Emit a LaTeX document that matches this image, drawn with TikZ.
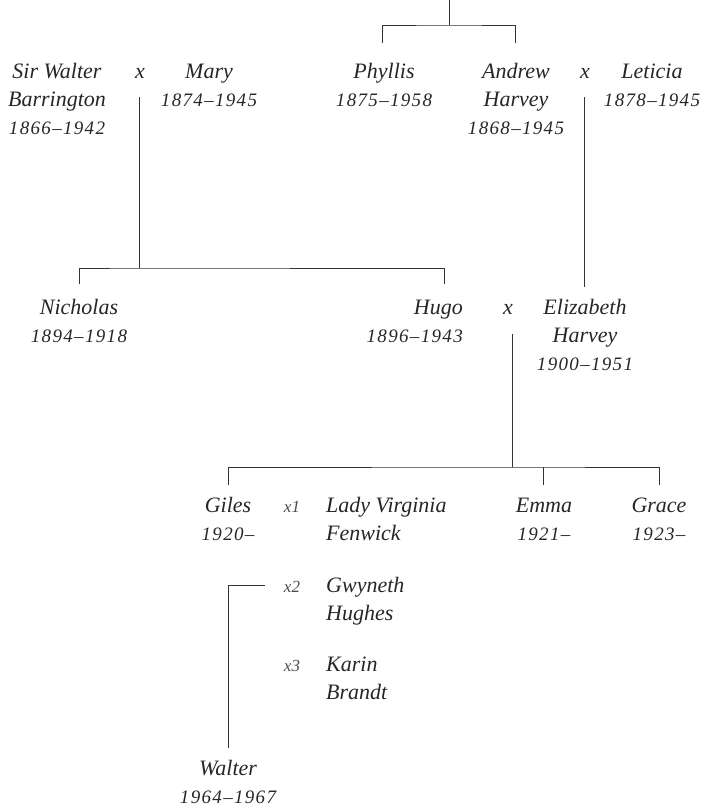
\documentclass[tikz,border=0pt]{standalone}
\usepackage{fontspec}
\setmainfont{Liberation Serif}
\newcommand\nmfont{\fontsize{22}{28}\selectfont\itshape}
\newcommand\yr{\fontsize{19}{28}\selectfont\itshape\addfontfeature{LetterSpace=7}}
\newcommand\smfont{\fontsize{17}{28}\selectfont\itshape}
\newcommand\pc[1]{\begin{tabular}[t]{@{}c@{}}#1\end{tabular}}
\newcommand\pl[1]{\begin{tabular}[t]{@{}l@{}}#1\end{tabular}}
\newcommand\pr[1]{\begin{tabular}[t]{@{}r@{}}#1\end{tabular}}
\begin{document}
\begin{tikzpicture}[x=1pt,y=-1pt]
\tikzset{
  person/.style={inner sep=0pt, anchor=base, font=\nmfont, text=black!85},
  lperson/.style={person, anchor=base west},
  rperson/.style={person, anchor=base east},
  marr/.style={inner sep=0pt, anchor=base, font=\nmfont, text=black!85},
  marrn/.style={inner sep=0pt, anchor=base, font=\smfont, text=black!70},
  line/.style={draw=black!80, line width=0.9pt}
}
\useasboundingbox (0,0) rectangle (703,808);
% generation 1
\node[person] (sirwalter) at (57,78) {\pc{Sir Walter\\Barrington\\\yr 1866–1942}};
\node[marr] (mx1) at (140,78) {x};
\node[person] (mary) at (209,78) {\pc{Mary\\\yr 1874–1945}};
\node[person] (phyllis) at (384,78) {\pc{Phyllis\\\yr 1875–1958}};
\node[person] (andrew) at (516,78) {\pc{Andrew\\Harvey\\\yr 1868–1945}};
\node[marr] (mx2) at (585,78) {x};
\node[person] (leticia) at (652,78) {\pc{Leticia\\\yr 1878–1945}};
% generation 2
\node[person] (nicholas) at (79,314) {\pc{Nicholas\\\yr 1894–1918}};
\node[rperson] (hugo) at (463,314) {\pr{Hugo\\\yr 1896–1943}};
\node[marr] (mx3) at (508,314) {x};
\node[person] (elizabeth) at (585,314) {\pc{Elizabeth\\Harvey\\\yr 1900–1951}};
% generation 3
\node[person] (giles) at (228,512) {\pc{Giles\\\yr 1920–}};
\node[marrn] (x1) at (292,512) {x1};
\node[lperson] (virginia) at (326,512) {\pl{Lady Virginia\\Fenwick}};
\node[person] (emma) at (544,512) {\pc{Emma\\\yr 1921–}};
\node[person] (grace) at (659,512) {\pc{Grace\\\yr 1923–}};
\node[marrn] (x2) at (292,592) {x2};
\node[lperson] (gwyneth) at (326,592) {\pl{Gwyneth\\Hughes}};
\node[marrn] (x3) at (292,671) {x3};
\node[lperson] (karin) at (326,671) {\pl{Karin\\Brandt}};
% generation 4
\node[person] (walter) at (228,775) {\pc{Walter\\\yr 1964–1967}};
% connector coordinates
\coordinate (top) at (449,0);
\coordinate (bar0) at (449,25);
\coordinate (dphyl) at (382,43);
\coordinate (dandr) at (515,43);
\coordinate (m1) at (139,97);
\coordinate (bar1) at (139,268);
\coordinate (dnich) at (79,284);
\coordinate (dhugo) at (444,284);
\coordinate (m2) at (584,97);
\coordinate (deliz) at (584,287);
\coordinate (m3) at (512,334);
\coordinate (bar3) at (512,467);
\coordinate (dgiles) at (228,485);
\coordinate (demma) at (543,485);
\coordinate (dgrace) at (659,485);
\coordinate (w2) at (265,585);
\coordinate (dwalt) at (228,748);
% connectors
\draw[line] (top) -- (bar0);
\draw[line] (dphyl) |- (bar0) -| (dandr);
\draw[line] (m1) -- (bar1);
\draw[line] (dnich) |- (bar1) -| (dhugo);
\draw[line] (m2) -- (deliz);
\draw[line] (m3) -- (bar3);
\draw[line] (dgiles) |- (bar3) -| (dgrace);
\draw[line] (bar3 -| demma) -- (demma);
\draw[line] (w2) -| (dwalt);
\end{tikzpicture}
\end{document}
